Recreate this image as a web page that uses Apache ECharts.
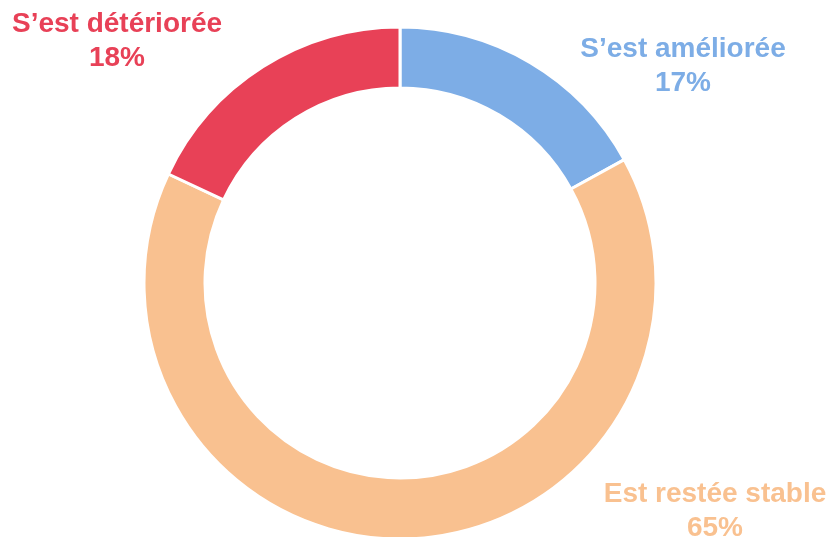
<!DOCTYPE html>
<html>
<head>
<meta charset="utf-8">
<script src="https://cdn.jsdelivr.net/npm/echarts@6/dist/echarts.min.js"></script>
<style>
html, body { margin: 0; padding: 0; background: #fff; }
#main { width: 830px; height: 537px; }
</style>
</head>
<body>
<div id="main"></div>
<script>
// données
var categories = ['S\u2019est améliorée', 'Est restée stable', 'S\u2019est détériorée'];
var values = [17, 65, 18];
var colors = ['#7DADE6', '#F9C190', '#E84157'];

// positions des étiquettes (centre du texte)
var labelPos = [[683, 66], [715, 511], [117, 41]];

var chart = echarts.init(document.getElementById('main'));
chart.setOption({
    animation: false,
    // étiquettes posées à la main (le pie tronque celle de gauche)
    graphic: categories.map(function (c, i) {
        return {
            type: 'text',
            x: labelPos[i][0],
            y: labelPos[i][1],
            silent: true,
            style: {
                text: c + '\n' + values[i] + '%',
                fill: colors[i],
                font: 'bold 28px "Liberation Sans", Arial, sans-serif',
                lineHeight: 34,
                align: 'center',
                verticalAlign: 'middle'
            }
        };
    }),
    series: [{
        type: 'pie',
        center: [400, 283],
        radius: [195, 256],
        startAngle: 90,
        clockwise: true,
        silent: true,
        itemStyle: { borderColor: '#fff', borderWidth: 3 },
        label: { show: false },
        labelLine: { show: false },
        data: categories.map(function (c, i) {
            return { name: c, value: values[i], itemStyle: { color: colors[i] } };
        })
    }]
});
</script>
</body>
</html>
